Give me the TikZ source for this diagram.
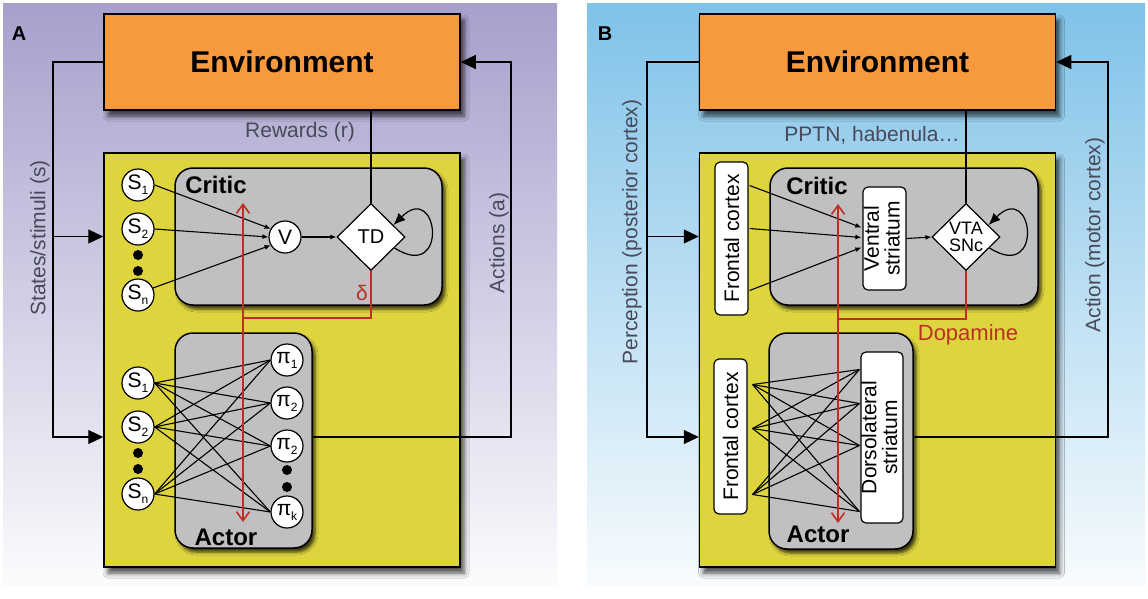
\documentclass[tikz,border=0pt]{standalone}
\usepackage{fontspec}
\setmainfont{Liberation Sans}
\usetikzlibrary{arrows.meta,calc,positioning,shapes.geometric,shadows.blur}
\tikzset{>=latex}
\definecolor{bgpurple}{RGB}{166,160,204}
\definecolor{bgblue}{RGB}{128,194,232}
\definecolor{envorange}{RGB}{247,154,62}
\definecolor{boxyellow}{RGB}{222,213,62}
\definecolor{boxgray}{RGB}{192,192,194}
\definecolor{dopared}{RGB}{188,48,36}
\definecolor{textgray}{RGB}{72,74,90}
\newcommand{\idx}[1]{\raisebox{-5pt}{\fontsize{12}{12}\selectfont #1}}
\tikzstyle{env}      = [rectangle, black, draw, line width=1.5pt, fill=envorange, minimum width=356pt, minimum height=96pt, font=\fontsize{30}{32}\selectfont\bfseries, blur shadow={shadow xshift=4pt, shadow yshift=-6pt, shadow blur radius=5pt, shadow opacity=70}]
\tikzstyle{agent}    = [rectangle, black, draw, line width=1.5pt, fill=boxyellow, minimum width=356pt, minimum height=414pt, blur shadow={shadow xshift=4pt, shadow yshift=-6pt, shadow blur radius=5pt, shadow opacity=70}]
\tikzstyle{area}     = [rectangle, rounded corners=18pt, black, draw, line width=1.5pt, fill=boxgray, blur shadow={shadow xshift=3pt, shadow yshift=-4pt, shadow blur radius=3pt, shadow opacity=75}]
\tikzstyle{region}   = [rectangle, rounded corners=5pt, black, draw, line width=1.2pt, fill=white, inner sep=0pt, font=\fontsize{21}{19}\selectfont]
\tikzstyle{unit}     = [circle, black, draw, line width=1.2pt, fill=white, minimum size=32pt, inner sep=0pt, font=\fontsize{21}{21}\selectfont]
\tikzstyle{dot}      = [circle, fill=black, minimum size=10pt, inner sep=0pt]
\tikzstyle{td}       = [diamond, black, draw, line width=1.2pt, fill=white, minimum width=68pt, minimum height=67pt, inner sep=0pt, align=center]
\tikzstyle{boxtitle} = [font=\fontsize{24}{24}\selectfont\bfseries, inner sep=0pt]
\tikzstyle{panelletter} = [font=\fontsize{20}{20}\selectfont\bfseries, inner sep=0pt]
\tikzstyle{note}     = [textgray, font=\fontsize{21}{23}\selectfont, inner sep=0pt]
\tikzstyle{link}     = [line width=1.2pt]
\tikzstyle{feed}     = [line width=1.2pt, -{Triangle[length=15pt,width=14pt]}]
\tikzstyle{input}    = [line width=1.1pt, -{Latex[length=6pt,width=5pt]}]
\tikzstyle{wire}     = [line width=1.1pt]
\tikzstyle{dopa}     = [dopared, line width=1.6pt]
\tikzstyle{dopatip}  = [dopared, line width=1.6pt, -{Straight Barb[length=9pt,width=13pt]}]
\tikzstyle{selfloop} = [line width=1.2pt, -{Latex[length=12pt,width=10pt]}]
\begin{document}
\begin{tikzpicture}[x=1pt, y=-1pt, node distance=44pt, auto]
  \useasboundingbox (0,0) rectangle (1148,598);
  \shade[top color=bgpurple, bottom color=bgpurple!4] (3,3) rectangle (557,585);
  \shade[top color=bgblue, bottom color=bgblue!6] (587,3) rectangle (1145,585);
  \node[panelletter] (lettA) at (19,34) {A};
  \node[panelletter] (lettB) at (605,34) {B};

  % panel A
  \node[env] (envA) at (282,62) {Environment};
  \node[agent] (agentA) at (282,360) {};
  \node[area, minimum width=267pt, minimum height=137pt] (criticA) at (308.5,236.5) {};
  \node[area, minimum width=137pt, minimum height=215pt] (actorA) at (243.5,440.5) {};
  \node[boxtitle] (criticAt) at (216,185) {Critic};
  \node[boxtitle] (actorAt) at (226,537) {Actor};
  \node[unit] (sc1) at (138,185) {S\idx{1}};
  \node[unit, below of=sc1] (sc2) {S\idx{2}};
  \node[dot] (dc1) at (138,255) {};
  \node[dot] (dc2) at (138,271) {};
  \node[unit] (scn) at (138,295) {S\idx{n}};
  \node[unit] (V) at (285,237) {V};
  \node[td, font=\fontsize{20}{20}\selectfont] (td) at (371,237) {TD};
  \draw[input] (sc1.east) -- (V.150);
  \draw[input] (sc2.east) -- (V.west);
  \draw[input] (scn.25) -- (V.210);
  \draw[input] (V.east) -- (td.west);
  \draw[selfloop] (td.-25) .. controls +(55,35) and +(45,-45) .. (td.28);
  \node[unit] (pa1) at (287,360) {π\idx{1}};
  \node[unit, below of=pa1, node distance=43pt] (pa2) {π\idx{2}};
  \node[unit, below of=pa2, node distance=43pt] (pa3) {π\idx{2}};
  \node[dot] (dp1) at (287,470) {};
  \node[dot] (dp2) at (287,487) {};
  \node[unit] (pak) at (287,512) {π\idx{k}};
  \node[unit] (sa1) at (138,383) {S\idx{1}};
  \node[unit, below of=sa1] (sa2) {S\idx{2}};
  \node[dot] (da1) at (138,453) {};
  \node[dot] (da2) at (138,469) {};
  \node[unit] (san) at (138,494) {S\idx{n}};
  \foreach \s in {sa1,sa2,san}
    \foreach \p in {pa1,pa2,pa3,pak}
      \draw[wire] (\s.east) -- (\p.west);
  \coordinate (inA) at (53,437);
  \coordinate (outA) at (511,437);
  \draw[feed] (envA.west) -| (inA) -- (agentA.west |- inA);
  \draw[feed] (inA |- criticA) -- (agentA.west |- criticA);
  \draw[feed] (actorA.east |- outA) -- (outA) |- (envA.east);
  \draw[link] (envA.south -| td) -- (td.north);
  \coordinate (dA) at (243,318);
  \coordinate (dAup) at (243,203);
  \coordinate (dAdown) at (243,522);
  \draw[dopa] (td.south) |- (dA);
  \draw[dopatip] (dA) -- (dAup);
  \draw[dopatip] (dA) -- (dAdown);
  \node[dopared, font=\fontsize{21}{21}\selectfont] (deltaA) at (362,293) {δ};
  \node[note] (rewA) at (300,132) {Rewards (r)};
  \node[note, rotate=90] (stA) at (40,238) {States/stimuli (s)};
  \node[note, rotate=90] (acA) at (499,243) {Actions (a)};

  % panel B
  \node[env] (envB) at (877.5,62) {Environment};
  \node[agent] (agentB) at (877.5,360) {};
  \node[area, minimum width=268pt, minimum height=137pt] (criticB) at (904,236.5) {};
  \node[area, minimum width=144pt, minimum height=216pt] (actorB) at (841,441) {};
  \node[boxtitle] (criticBt) at (817,186) {Critic};
  \node[boxtitle] (actorBt) at (818,534) {Actor};
  \node[region, minimum width=33pt, minimum height=153pt] (frontalC) at (731.5,238.5) {\rotatebox{90}{Frontal cortex}};
  \node[region, minimum width=43pt, minimum height=103pt] (ventral) at (884.5,238.5) {\rotatebox{90}{\begin{tabular}{@{}c@{}}Ventral\\striatum\end{tabular}}};
  \node[td, font=\fontsize{18}{17}\selectfont] (vta) at (966,237) {VTA\\SNc};
  \node[region, minimum width=33pt, minimum height=155pt] (frontalA) at (730.5,436.5) {\rotatebox{90}{Frontal cortex}};
  \node[region, minimum width=42pt, minimum height=171pt] (dorsal) at (882,437.5) {\rotatebox{90}{\begin{tabular}{@{}c@{}}Dorsolateral\\striatum\end{tabular}}};
  \foreach \a/\b in {-53/-11, -10/-1, 52/9}
    \draw[input] ($(frontalC.east)+(1,\a)$) -- ($(ventral.west)+(-1,\b)$);
  \draw[input] (ventral.east) -- (vta.west);
  \draw[selfloop] (vta.-25) .. controls +(55,35) and +(45,-45) .. (vta.28);
  \foreach \a in {-52,-8,58}
    \foreach \b in {-68,-34,8,74}
      \draw[wire] ($(frontalA.east)+(5,\a)$) -- ($(dorsal.west)+(-1,\b)$);
  \coordinate (inB) at (647,437);
  \coordinate (outB) at (1108,437);
  \draw[feed] (envB.west) -| (inB) -- (agentB.west |- inB);
  \draw[feed] (inB |- criticB) -- (agentB.west |- criticB);
  \draw[feed] (actorB.east |- outB) -- (outB) |- (envB.east);
  \draw[link] (envB.south -| vta) -- (vta.north);
  \coordinate (dB) at (838,319);
  \coordinate (dBup) at (838,204);
  \coordinate (dBdown) at (838,523);
  \draw[dopa] (vta.south) |- (dB);
  \draw[dopatip] (dB) -- (dBup);
  \draw[dopatip] (dB) -- (dBdown);
  \node[dopared, font=\fontsize{22}{22}\selectfont] (dopaB) at (968,335) {Dopamine};
  \node[note] (pptn) at (872,135) {PPTN, habenula…};
  \node[note, rotate=90] (percB) at (632,232) {Perception (posterior cortex)};
  \node[note, rotate=90] (actB) at (1095,235) {Action (motor cortex)};
\end{tikzpicture}
\end{document}
